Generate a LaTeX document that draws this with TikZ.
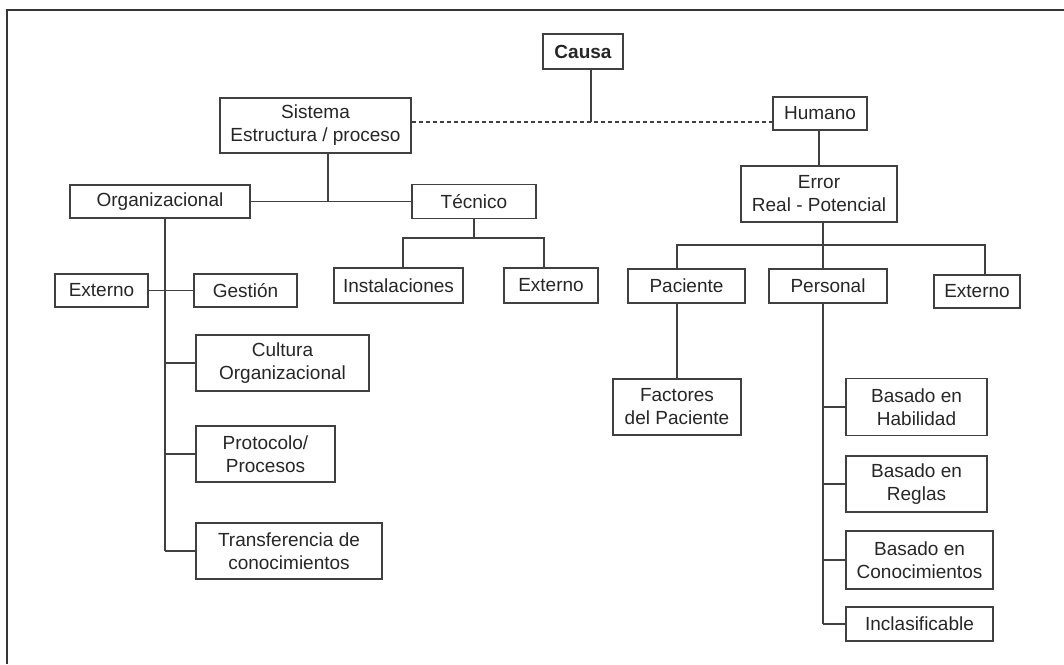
\documentclass[tikz,border=0pt]{standalone}
\usepackage{fontspec}
\setmainfont{Liberation Sans}
\usetikzlibrary{positioning}

\definecolor{boxline}{HTML}{404040}
\definecolor{boxtext}{HTML}{262626}

\begin{document}
\begin{tikzpicture}[x=1pt,y=-1pt,line width=1.3pt,draw=boxline]
  \tikzset{box/.style={draw=boxline, rectangle, inner sep=0pt, align=center,
      text=boxtext, font=\fontsize{19}{23}\selectfont},
    frame/.style={draw=boxline!85!black, line width=2pt}}
  \useasboundingbox (0,0) rectangle (1064,664);
  \draw[frame] (1064,10) -| (7,664);

  \node[box, minimum width=80,  minimum height=35, font=\fontsize{19}{23}\selectfont\bfseries]
                    (causa)          at (583,51.5)  {Causa};
  \node[box, minimum width=191, minimum height=55] (sistema)        at (315.5,125.5) {Sistema\\Estructura / proceso};
  \node[box, minimum width=94,  minimum height=33] (humano)         at (820,113.5) {Humano};
  \node[box, minimum width=180, minimum height=33] (organizacional) at (160,201.5) {Organizacional};
  \node[box, minimum width=124, minimum height=34] (tecnico)        at (474,201.5) {Técnico};
  \node[box, minimum width=156, minimum height=56] (error)          at (819,194)   {Error\\Real - Potencial};
  \node[box, minimum width=93,  minimum height=33] (externoorg)     at (101.5,290.5) {Externo};
  \node[box, minimum width=103, minimum height=33] (gestion)        at (245.5,290.5) {Gestión};
  \node[box, minimum width=129, minimum height=35] (instalaciones)  at (398.5,285.5) {Instalaciones};
  \node[box, minimum width=94,  minimum height=35] (externotec)     at (551,285.5) {Externo};
  \node[box, minimum width=173, minimum height=56] (cultura)        at (282.5,363) {Cultura\\Organizacional};
  \node[box, minimum width=139, minimum height=56] (protocolo)      at (265.5,454) {Protocolo/\\Procesos};
  \node[box, minimum width=186, minimum height=56] (transferencia)  at (289,551)   {Transferencia de\\conocimientos};
  \node[box, minimum width=117, minimum height=34] (paciente)       at (686.5,286) {Paciente};
  \node[box, minimum width=118, minimum height=34] (personal)       at (828,286)   {Personal};
  \node[box, minimum width=86,  minimum height=33] (externohum)     at (977,291.5) {Externo};
  \node[box, minimum width=128, minimum height=56] (factores)       at (677,407)   {Factores\\del Paciente};
  \node[box, minimum width=141, minimum height=57] (habilidad)      at (916.5,407) {Basado en\\Habilidad};
  \node[box, minimum width=141, minimum height=56] (reglas)         at (916.5,484) {Basado en\\Reglas};
  \node[box, minimum width=147, minimum height=58] (conocimientos)  at (919.5,560) {Basado en\\Conocimientos};
  \node[box, minimum width=147, minimum height=34] (inclasificable) at (919.5,624) {Inclasificable};

  \coordinate (causajoin) at (591,122);
  \coordinate (sistemajoin) at (328,201.5);
  \coordinate (tecnicobar) at (474,238);
  \coordinate (orgtrunk) at (165,551);
  \coordinate (errorbar) at (823,245);
  \coordinate (personaltrunk) at (823,624);

  \draw[dashed, dash pattern=on 4pt off 3pt] (sistema.east |- causajoin) -- (humano.west |- causajoin);
  \draw (causa.south -| causajoin) -- (causajoin);
  \draw (sistema.south -| sistemajoin) -- (sistemajoin);
  \draw (organizacional.east) -- (tecnico.west);
  \draw (tecnico.south) -- (tecnicobar);
  \draw ([xshift=4.5pt]instalaciones.north) |- (tecnicobar) -| ([xshift=-7pt]externotec.north);
  \draw (organizacional.south -| orgtrunk) -- (orgtrunk);
  \draw (externoorg.east) -- (gestion.west);
  \foreach \n in {cultura, protocolo, transferencia}
    \draw (\n.west) -- (\n.west -| orgtrunk);
  \draw (humano.south -| error.north) -- (error.north);
  \draw (error.south -| errorbar) -- (errorbar);
  \draw ([xshift=-9.5pt]paciente.north) |- (errorbar) -| ([xshift=8pt]externohum.north);
  \draw (personal.north -| errorbar) -- (errorbar);
  \draw (paciente.south -| factores.north) -- (factores.north);
  \draw (personal.south -| personaltrunk) -- (personaltrunk);
  \foreach \n in {habilidad, reglas, conocimientos, inclasificable}
    \draw (\n.west) -- (\n.west -| personaltrunk);
\end{tikzpicture}
\end{document}
